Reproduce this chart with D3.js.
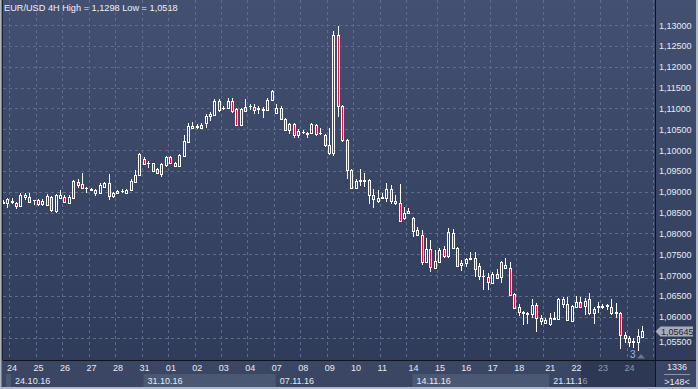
<!DOCTYPE html>
<html>
<head>
<meta charset="utf-8">
<script src="https://cdnjs.cloudflare.com/ajax/libs/d3/7.8.5/d3.min.js"></script>
<style>
  body { margin: 0; background: #2f3b57; }
  svg { display: block; font-family: "Liberation Sans", Arial, sans-serif; }
</style>
</head>
<body>
<svg width="698" height="389"></svg>
<script>
// EUR/USD 4H candles (oldest first)
let opens = [1.0874,1.0872,1.0875,1.0873,1.0866,1.0888,1.0888,1.0879,1.0880,1.0870,
  1.0868,1.0888,1.0854,1.0886,1.0888,1.0874,1.0886,1.0924,1.0918,1.0908,
  1.0906,1.0904,1.0896,1.0912,1.0920,1.0890,1.0896,1.0901,1.0898,1.0903,
  1.0924,1.0940,1.0978,1.0969,1.0968,1.0954,1.0942,1.0964,1.0983,1.0970,
  1.0962,1.0986,1.1020,1.1052,1.1055,1.1060,1.1064,1.1082,1.1084,1.1118,
  1.1101,1.1100,1.1118,1.1098,1.1060,1.1094,1.1105,1.1104,1.1099,1.1098,
  1.1096,1.1120,1.1090,1.1100,1.1074,1.1048,1.1062,1.1036,1.1043,1.1040,
  1.1040,1.1060,1.1041,1.1036,1.1013,1.0993,1.1276,1.1106,1.1024,1.0952,
  1.0908,1.0926,1.0928,1.0928,1.0892,1.0878,1.0886,1.0884,1.0906,1.0878,
  1.0874,1.0838,1.0848,1.0836,1.0808,1.0796,1.0732,1.0762,1.0718,1.0732,
  1.0762,1.0746,1.0802,1.0766,1.0723,1.0728,1.0739,1.0742,1.0722,1.0697,
  1.0696,1.0682,1.0702,1.0696,1.0724,1.0716,1.0654,1.0624,1.0610,1.0606,
  1.0606,1.0628,1.0598,1.0586,1.0582,1.0595,1.0594,1.0642,1.0630,1.0590,
  1.0624,1.0636,1.0626,1.0642,1.0608,1.0624,1.0623,1.0626,1.0624,1.0611,
  1.0610,1.0556,1.0550,1.0542,1.0540,1.0552];
let highs = [1.0880,1.0886,1.0884,1.0876,1.0896,1.0896,1.0896,1.0881,1.0882,1.0882,
  1.0894,1.0890,1.0894,1.0904,1.0892,1.0892,1.0928,1.0930,1.0946,1.0912,
  1.0910,1.0906,1.0920,1.0924,1.0942,1.0900,1.0904,1.0906,1.0906,1.0930,
  1.0952,1.0992,1.0984,1.0974,1.0970,1.0956,1.0968,1.0986,1.0986,1.0972,
  1.0990,1.1036,1.1064,1.1068,1.1062,1.1064,1.1086,1.1092,1.1122,1.1122,
  1.1106,1.1126,1.1126,1.1102,1.1102,1.1122,1.1110,1.1110,1.1106,1.1104,
  1.1126,1.1144,1.1110,1.1106,1.1076,1.1066,1.1064,1.1050,1.1048,1.1044,
  1.1066,1.1062,1.1054,1.1038,1.1052,1.1285,1.1298,1.1108,1.1026,1.0954,
  1.0930,1.0954,1.0946,1.0930,1.0906,1.0904,1.0898,1.0922,1.0916,1.0892,
  1.0918,1.0864,1.0862,1.0840,1.0816,1.0808,1.0788,1.0784,1.0760,1.0764,
  1.0770,1.0814,1.0810,1.0768,1.0736,1.0742,1.0756,1.0756,1.0728,1.0712,
  1.0706,1.0708,1.0714,1.0734,1.0742,1.0732,1.0656,1.0630,1.0614,1.0612,
  1.0642,1.0634,1.0604,1.0598,1.0608,1.0612,1.0644,1.0648,1.0648,1.0628,
  1.0650,1.0648,1.0644,1.0656,1.0624,1.0636,1.0630,1.0630,1.0642,1.0634,
  1.0611,1.0564,1.0554,1.0548,1.0570,1.0578];
let lows = [1.0870,1.0862,1.0870,1.0858,1.0864,1.0880,1.0872,1.0868,1.0866,1.0866,
  1.0866,1.0852,1.0850,1.0884,1.0872,1.0872,1.0884,1.0908,1.0906,1.0898,
  1.0902,1.0890,1.0894,1.0908,1.0880,1.0886,1.0894,1.0896,1.0896,1.0902,
  1.0920,1.0938,1.0964,1.0958,1.0948,1.0944,1.0936,1.0960,1.0966,1.0960,
  1.0961,1.0985,1.1018,1.1050,1.1050,1.1050,1.1052,1.1070,1.1082,1.1092,
  1.1096,1.1098,1.1090,1.1058,1.1057,1.1094,1.1096,1.1086,1.1086,1.1078,
  1.1094,1.1118,1.1086,1.1072,1.1046,1.1038,1.1028,1.1028,1.1038,1.1030,
  1.1038,1.1034,1.1036,1.1008,1.0989,1.0986,1.1080,1.1020,1.0930,1.0906,
  1.0906,1.0914,1.0912,1.0870,1.0862,1.0874,1.0882,1.0876,1.0870,1.0868,
  1.0828,1.0832,1.0846,1.0792,1.0794,1.0724,1.0730,1.0708,1.0714,1.0730,
  1.0742,1.0742,1.0764,1.0720,1.0710,1.0720,1.0736,1.0696,1.0688,1.0664,
  1.0664,1.0678,1.0690,1.0680,1.0714,1.0650,1.0618,1.0602,1.0580,1.0582,
  1.0596,1.0564,1.0580,1.0584,1.0578,1.0592,1.0592,1.0620,1.0590,1.0588,
  1.0622,1.0620,1.0604,1.0604,1.0582,1.0608,1.0618,1.0616,1.0604,1.0596,
  1.0522,1.0536,1.0528,1.0524,1.0518,1.0550];
let closes = [1.0876,1.0882,1.0877,1.0866,1.0892,1.0891,1.0876,1.0881,1.0870,1.0878,
  1.0890,1.0856,1.0892,1.0892,1.0876,1.0888,1.0926,1.0916,1.0908,1.0909,
  1.0905,1.0896,1.0916,1.0920,1.0890,1.0896,1.0902,1.0902,1.0904,1.0926,
  1.0940,1.0990,1.0966,1.0970,1.0950,1.0946,1.0966,1.0984,1.0968,1.0962,
  1.0988,1.1022,1.1058,1.1058,1.1057,1.1052,1.1082,1.1086,1.1118,1.1096,
  1.1102,1.1118,1.1094,1.1060,1.1098,1.1104,1.1106,1.1096,1.1100,1.1097,
  1.1120,1.1142,1.1100,1.1074,1.1048,1.1062,1.1036,1.1046,1.1044,1.1039,
  1.1062,1.1038,1.1040,1.1013,1.0992,1.1276,1.1106,1.1024,1.0952,1.0910,
  1.0926,1.0927,1.0926,1.0892,1.0882,1.0885,1.0887,1.0906,1.0878,1.0874,
  1.0830,1.0850,1.0854,1.0806,1.0796,1.0732,1.0762,1.0720,1.0734,1.0760,
  1.0746,1.0804,1.0766,1.0722,1.0728,1.0738,1.0740,1.0714,1.0698,1.0698,
  1.0684,1.0702,1.0694,1.0732,1.0716,1.0652,1.0622,1.0612,1.0612,1.0608,
  1.0628,1.0596,1.0590,1.0592,1.0596,1.0596,1.0642,1.0630,1.0592,1.0626,
  1.0636,1.0624,1.0638,1.0608,1.0618,1.0626,1.0625,1.0627,1.0608,1.0608,
  1.0556,1.0550,1.0540,1.0540,1.0554,1.05645];

let dayLabels = ["24","25","26","27","28","31","01","02","03","04","07","08","09","10","11",
  "14","15","16","17","18","21","22","23","24"];
let dayStart = [1,7,13,19,25,31,37,43,49,55,61,67,73,79,85,92,98,104,110,116,123,129,135,141];
let weekLabels = ["24.10.16","31.10.16","07.11.16","14.11.16","21.11.16"];
let weekStart = [1,31,61,92,123];
let priceTicks = [1.055,1.06,1.065,1.07,1.075,1.08,1.085,1.09,1.095,1.1,1.105,1.11,1.115,1.12,1.125,1.13];
let lastPrice = 1.05645;

const W = 698, H = 389;
const plotR = 655.5, plotB = 360;
const svg = d3.select("svg");
const defs = svg.append("defs");

let bgGrad = defs.append("linearGradient").attr("id", "bg").attr("x1", 0).attr("y1", 0).attr("x2", 0).attr("y2", 1);
bgGrad.append("stop").attr("offset", "0%").attr("stop-color", "#435071");
bgGrad.append("stop").attr("offset", "100%").attr("stop-color", "#2e3a58");

defs.append("clipPath").attr("id", "plotclip")
  .append("rect").attr("x", 3).attr("y", 0).attr("width", plotR - 3).attr("height", plotB);

const x = d3.scaleLinear().domain([0, 145]).range([2.7, 2.7 + 4.41 * 145]);
const y = d3.scaleLinear().domain([1.05, 1.13]).range([25 + 0.08 * 4166.7, 25]);

// backgrounds
svg.append("rect").attr("width", W).attr("height", H).attr("fill", "url(#bg)");
svg.append("rect").attr("x", 0).attr("y", plotB).attr("width", W).attr("height", H - plotB).attr("fill", "#3a4664");

// grid
let gridG = svg.append("g").attr("stroke", "#5d6c8c").attr("stroke-dasharray", "3,3")
  .attr("shape-rendering", "crispEdges");
gridG.selectAll(".hg").data(priceTicks).join("line")
  .attr("x1", 3).attr("x2", plotR)
  .attr("y1", d => Math.round(y(d)) + 0.5).attr("y2", d => Math.round(y(d)) + 0.5);
gridG.selectAll(".vg").data([-5].concat(dayStart)).join("line")
  .attr("x1", d => Math.round(x(d + 6.5)) + 0.5).attr("x2", d => Math.round(x(d + 6.5)) + 0.5)
  .attr("y1", 0).attr("y2", plotB);

// candles
let candles = d3.range(opens.length).map(i => ({i: i, o: opens[i], h: highs[i], l: lows[i], c: closes[i]}));
let cg = svg.append("g").attr("clip-path", "url(#plotclip)").attr("shape-rendering", "crispEdges");
let cndl = cg.selectAll("g").data(candles).join("g");
cndl.append("line")
  .attr("x1", d => Math.round(x(d.i)) + 0.5).attr("x2", d => Math.round(x(d.i)) + 0.5)
  .attr("y1", d => y(d.h)).attr("y2", d => y(Math.max(d.o, d.c)))
  .attr("stroke", "#fff");
cndl.append("line")
  .attr("x1", d => Math.round(x(d.i)) + 0.5).attr("x2", d => Math.round(x(d.i)) + 0.5)
  .attr("y1", d => y(Math.min(d.o, d.c))).attr("y2", d => y(d.l))
  .attr("stroke", "#fff");
cndl.append("rect")
  .attr("x", d => Math.round(x(d.i)) - 0.5)
  .attr("width", 2)
  .attr("y", d => Math.round(y(Math.max(d.o, d.c))) + 0.5)
  .attr("height", d => Math.max(0.01, Math.round(y(Math.min(d.o, d.c))) - Math.round(y(Math.max(d.o, d.c)))))
  .attr("fill", d => d.c < d.o ? "#e2103e" : "none")
  .attr("stroke", "#fff");

// frame lines
svg.append("line").attr("x1", 3).attr("x2", W).attr("y1", plotB + 0.5).attr("y2", plotB + 0.5).attr("stroke", "#0e131e");
svg.append("line").attr("x1", plotR).attr("x2", plotR).attr("y1", 0).attr("y2", H).attr("stroke", "#0e131e");
svg.append("line").attr("x1", 2.5).attr("x2", 2.5).attr("y1", 0).attr("y2", plotB).attr("stroke", "#1b2335");
svg.append("rect").attr("x", 0).attr("y", 0).attr("width", 1.5).attr("height", H).attr("fill", "#aeb3bc");

// price axis
let yAxis = d3.axisRight(y).tickValues(priceTicks).tickSize(0).tickPadding(0)
  .tickFormat(d => d3.format(".5f")(d).replace(".", ","));
let ya = svg.append("g").attr("transform", "translate(659,0)").call(yAxis);
ya.select(".domain").remove();
ya.selectAll("text").attr("fill", "#e6eaf2").attr("font-size", 9)
  .attr("dy", d => d === lastPrice - 0.00145 || d === 1.055 ? "0.75em" : "0.35em")   // half hidden under the price box
  .attr("font-family", "Liberation Sans, Arial, sans-serif");

// last price marker
let ly = y(lastPrice);
svg.append("path")
  .attr("d", `M${plotR},${ly} L${plotR + 5},${ly - 5} L693,${ly - 5} L693,${ly + 5} L${plotR + 5},${ly + 5} Z`)
  .attr("fill", "#a7adb7");
svg.append("text").attr("x", 661).attr("y", ly).attr("dy", "0.35em")
  .attr("font-size", 9).attr("fill", "#1e2638")
  .text(d3.format(".5f")(lastPrice).replace(".", ","));

// week boxes
let weekBox = svg.append("g");
weekBox.append("rect").attr("x", 6).attr("y", 374).attr("width", x(weekStart[0]) + 4 - 6).attr("height", 13).attr("fill", "#4b5874");
[1, 3].forEach(k => {
  weekBox.append("rect")
    .attr("x", x(weekStart[k]) + 4).attr("y", 374)
    .attr("width", x(weekStart[k + 1]) - x(weekStart[k])).attr("height", 13)
    .attr("fill", "#4b5874");
});

// day axis
let xAxis = d3.axisBottom(x).tickValues(dayStart).tickSize(0).tickPadding(0)
  .tickFormat((d, i) => dayLabels[i]);
let xa = svg.append("g").attr("transform", "translate(0,365)").call(xAxis);
xa.select(".domain").remove();
xa.selectAll("text").attr("fill", "#e6eaf2").attr("font-size", 9).attr("text-anchor", "start")
  .attr("x", -0.5).attr("dy", "0.71em").attr("font-family", "Liberation Sans, Arial, sans-serif");

svg.append("g").selectAll("text").data(weekLabels).join("text")
  .attr("x", (d, i) => x(weekStart[i]) + 8).attr("y", 384)
  .attr("font-size", 9).attr("fill", "#e6eaf2")
  .text(d => d);

// darker area at the right end of the date axis
svg.append("rect").attr("x", 581).attr("y", plotB + 1).attr("width", plotR - 581).attr("height", 26)
  .attr("fill", "#1d2740").attr("opacity", 0.45);

// bottom right counters
svg.append("text").attr("x", 677).attr("y", 370).attr("text-anchor", "middle")
  .attr("font-size", 9).attr("fill", "#e6eaf2").text("1336");
svg.append("line").attr("x1", 664).attr("x2", 690).attr("y1", 374.5).attr("y2", 374.5).attr("stroke", "#8b95a8");
svg.append("text").attr("x", 677).attr("y", 385).attr("text-anchor", "middle")
  .attr("font-size", 9).attr("fill", "#e6eaf2").text(">148<");

// low marker
svg.append("text").attr("x", 630).attr("y", 358).attr("font-size", 10).attr("fill", "#8fbaf0").text("3");
svg.append("path").attr("d", "M637,358.5 L641,354 L645,358.5 Z").attr("fill", "#6b7589");

// title
svg.append("text").attr("x", 4).attr("y", 10.5).attr("font-size", 9.2).attr("fill", "#eef1f6")
  .text("EUR/USD 4H High = 1,1298 Low = 1,0518");

// outer window edges
svg.append("rect").attr("x", 0).attr("y", H - 2).attr("width", W).attr("height", 2).attr("fill", "#b4b8c0");
svg.append("rect").attr("x", W - 2).attr("y", 0).attr("width", 2).attr("height", H).attr("fill", "#b4b8c0");
</script>
</body>
</html>
